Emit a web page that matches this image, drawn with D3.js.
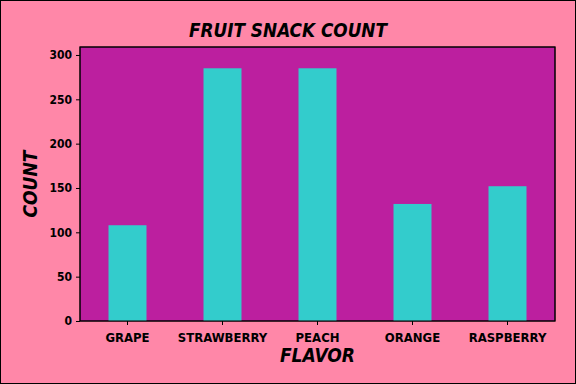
<!DOCTYPE html>
<html>
<head>
<meta charset="utf-8">
<script src="https://cdn.jsdelivr.net/npm/d3@7"></script>
<style>
  body { margin: 0; background: #fff; }
  text { font-family: "DejaVu Sans Condensed", "DejaVu Sans", sans-serif; font-weight: bold; fill: #000; }
</style>
</head>
<body>
<div id="chart"></div>
<script>
// data
var flavors = ["GRAPE", "STRAWBERRY", "PEACH", "ORANGE", "RASPBERRY"];
var counts = [108, 285, 285, 132, 152];
var yTicks = [0, 50, 100, 150, 200, 250, 300];

var W = 576, H = 384;
var margin = { top: 47, right: 21, bottom: 63, left: 80 },
  width = W - margin.left - margin.right,
  height = H - margin.top - margin.bottom;

var svg = d3.select("#chart").append("svg")
  .attr("width", W)
  .attr("height", H);

// figure background with thin black frame
svg.append("rect")
  .attr("x", 0.5).attr("y", 0.5)
  .attr("width", W - 1).attr("height", H - 1)
  .attr("fill", "#ff87a8")
  .attr("stroke", "#000");

var g = svg.append("g")
  .attr("transform", `translate(${margin.left},${margin.top})`);

var x = d3.scaleBand().domain(flavors).range([0, width]).padding(0);
var y = d3.scaleLinear().domain([0, 309]).range([height, 0]);

// plot area
g.append("rect")
  .attr("width", width)
  .attr("height", height)
  .attr("fill", "#bc1f9f")
  .attr("stroke", "#000");

// bars, 0.4 of a category wide
var barW = x.bandwidth() * 0.4;
g.selectAll(".bar")
  .data(flavors)
  .join("rect")
  .attr("class", "bar")
  .attr("x", (d) => x(d) + (x.bandwidth() - barW) / 2)
  .attr("y", (d, i) => y(counts[i]))
  .attr("width", barW)
  .attr("height", (d, i) => height - y(counts[i]))
  .attr("fill", "#33cccc");

// re-stroke the frame on top
g.append("rect")
  .attr("width", width)
  .attr("height", height)
  .attr("fill", "none")
  .attr("stroke", "#000");

// axes
var xAxis = d3.axisBottom(x).tickSize(4).tickPadding(4);
var yAxis = d3.axisLeft(y).tickValues(yTicks).tickSize(4).tickPadding(4);

var gx = g.append("g")
  .attr("class", "x axis")
  .attr("transform", `translate(0,${height})`)
  .call(xAxis);
var gy = g.append("g")
  .attr("class", "y axis")
  .call(yAxis);

[gx, gy].forEach(function (a) {
  a.select(".domain").remove();
  a.selectAll("line").attr("stroke", "#000");
  a.selectAll("text")
    .style("font-size", "12px")
    .style("font-family", "'DejaVu Sans Condensed', 'DejaVu Sans', sans-serif")
    .style("font-weight", "bold");
});
gx.selectAll("text").attr("dy", "1em").style("font-size", "13px");

// title
svg.append("text")
  .attr("x", W / 2)
  .attr("y", 37)
  .attr("text-anchor", "middle")
  .attr("textLength", 198)
  .attr("lengthAdjust", "spacingAndGlyphs")
  .style("font-size", "20px")
  .style("font-style", "italic")
  .text("FRUIT SNACK COUNT");

// x label
svg.append("text")
  .attr("x", margin.left + width / 2)
  .attr("y", 362)
  .attr("text-anchor", "middle")
  .style("font-size", "19px")
  .style("font-style", "italic")
  .text("FLAVOR");

// y label
svg.append("text")
  .attr("transform", `translate(37,${margin.top + height / 2}) rotate(-90)`)
  .attr("text-anchor", "middle")
  .style("font-size", "19px")
  .style("font-style", "italic")
  .text("COUNT");
</script>
</body>
</html>
